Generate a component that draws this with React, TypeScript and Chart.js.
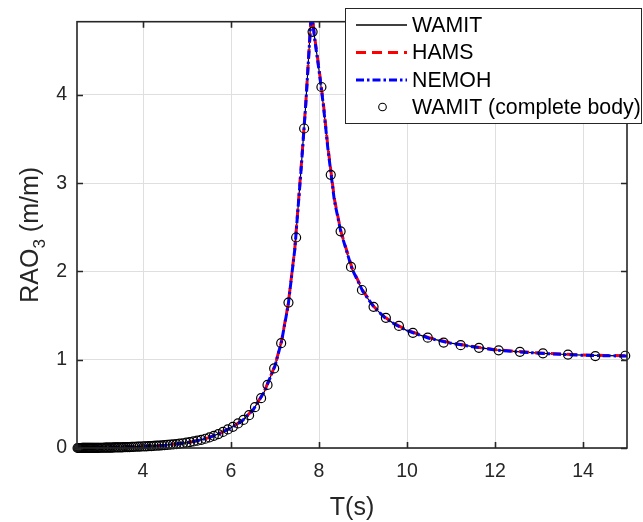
import React, { useEffect, useRef } from "react";
import { Chart, registerables } from "chart.js";
Chart.register(...registerables);

// ---- data ----
const circleT = [
  14.96, 14.28, 13.659, 13.09, 12.566, 12.083, 11.636, 11.22, 10.833, 10.472,
  10.134, 9.817, 9.52, 9.24, 8.976, 8.727, 8.491, 8.267, 8.055, 7.854,
  7.662, 7.48, 7.306, 7.14, 6.981, 6.83, 6.684, 6.545, 6.411, 6.283,
  6.16, 6.042, 5.928, 5.818, 5.712, 5.61, 5.512, 5.417, 5.325, 5.236,
  5.15, 5.067, 4.987, 4.909, 4.833, 4.76, 4.689, 4.62, 4.553, 4.488,
  4.425, 4.363, 4.304, 4.245, 4.189, 4.134, 4.08, 4.028, 3.977, 3.927,
  3.879, 3.831, 3.785, 3.74, 3.696, 3.653, 3.611, 3.57, 3.53, 3.491,
  3.452, 3.415, 3.378, 3.342, 3.307, 3.272, 3.239, 3.206, 3.173, 3.142,
  3.11, 3.08, 3.05, 3.021, 2.992, 2.964, 2.936, 2.909, 2.882, 2.856,
  2.83, 2.805, 2.78, 2.756, 2.732, 2.708, 2.685, 2.662, 2.64, 2.618,
  2.596, 2.575, 2.554, 2.534, 2.513,
];
const circleRAO = [
  1.045, 1.042, 1.058, 1.073, 1.09, 1.107, 1.135, 1.165, 1.195, 1.25,
  1.305, 1.383, 1.475, 1.6, 1.79, 2.052, 2.455, 3.095, 4.09, 4.715,
  3.62, 2.385, 1.648, 1.188, 0.902, 0.715, 0.565, 0.462, 0.372, 0.318,
  0.278, 0.24, 0.21, 0.182, 0.158, 0.138, 0.12, 0.105, 0.093, 0.083,
  0.074, 0.066, 0.06, 0.054, 0.049, 0.045, 0.041, 0.038, 0.035, 0.032,
  0.03, 0.028, 0.026, 0.024, 0.022, 0.021, 0.019, 0.018, 0.017, 0.016,
  0.015, 0.014, 0.013, 0.012, 0.011, 0.01, 0.01, 0.009, 0.008, 0.008,
  0.007, 0.007, 0.006, 0.006, 0.005, 0.005, 0.005, 0.004, 0.004, 0.004,
  0.003, 0.003, 0.003, 0.003, 0.002, 0.002, 0.002, 0.002, 0.002, 0.002,
  0.001, 0.001, 0.001, 0.001, 0.001, 0.001, 0.001, 0.001, 0.001, 0.001,
  0, 0, 0, 0, 0,
];
const lineT = [
  2.5, 2.75, 3.0, 3.25, 3.5, 3.75, 4.0, 4.25, 4.5, 4.75, 5.0, 5.25, 5.5, 5.75,
  6.0, 6.25, 6.5, 6.75, 7.0, 7.15, 7.3, 7.45, 7.6, 7.7, 7.83, 7.9, 8.0, 8.1,
  8.2, 8.35, 8.5, 8.75, 9.0, 9.25, 9.5, 9.75, 10.0, 10.5, 11.0, 11.5, 12.0,
  12.5, 13.0, 13.5, 14.0, 14.5, 15.0,
];
const wamitRAO = [
  0, 0.001, 0.003, 0.005, 0.008, 0.012, 0.018, 0.024, 0.032, 0.045, 0.06, 0.084, 0.118, 0.167,
  0.229, 0.307, 0.43, 0.63, 0.93, 1.21, 1.62, 2.25, 3.21, 3.9, 4.98, 4.65, 4.28, 3.88,
  3.4, 2.8, 2.44, 2.03, 1.77, 1.595, 1.475, 1.395, 1.33, 1.245, 1.188, 1.148, 1.112,
  1.092, 1.075, 1.062, 1.052, 1.046, 1.043,
];
const hamsRAO = [
  0, 0.001, 0.003, 0.005, 0.008, 0.012, 0.018, 0.024, 0.032, 0.045, 0.06, 0.084, 0.118, 0.167,
  0.23, 0.308, 0.432, 0.632, 0.935, 1.215, 1.63, 2.26, 3.22, 3.91, 4.97, 4.66, 4.3, 3.9,
  3.42, 2.82, 2.45, 2.04, 1.78, 1.6, 1.48, 1.4, 1.335, 1.25, 1.19, 1.15, 1.114,
  1.094, 1.077, 1.064, 1.054, 1.048, 1.045,
];
const nemohRAO = [
  0, 0.001, 0.003, 0.005, 0.008, 0.012, 0.018, 0.024, 0.032, 0.045, 0.06, 0.084, 0.118, 0.167,
  0.229, 0.306, 0.43, 0.63, 0.93, 1.21, 1.62, 2.25, 3.2, 3.9, 4.96, 4.64, 4.28, 3.88,
  3.4, 2.8, 2.44, 2.03, 1.77, 1.595, 1.474, 1.394, 1.33, 1.244, 1.187, 1.147, 1.111,
  1.091, 1.074, 1.061, 1.051, 1.045, 1.042,
];
const xTicks = [4, 6, 8, 10, 12, 14];
const yTicks = [0, 1, 2, 3, 4];
const legendLabels = ["WAMIT", "HAMS", "NEMOH", "WAMIT (complete body)"];
const xTitle = "T(s)";
const yTitleMain = "RAO";
const yTitleSub = "3";
const yTitleUnit = " (m/m)";

const FONT = "'Liberation Sans', Arial, sans-serif";
const AX = "#262626";

const toPts = (xs: number[], ys: number[]) => xs.map((x, i) => ({ x, y: ys[i] }));

const decorPlugin = {
  id: "decor",
  afterDatasetsDraw(chart: any) {
    const { ctx, chartArea: a, scales } = chart;
    ctx.save();
    ctx.strokeStyle = AX;
    ctx.lineWidth = 1.6;
    ctx.strokeRect(a.left, a.top, a.right - a.left, a.bottom - a.top);
    const tl = 6;
    ctx.beginPath();
    xTicks.forEach((v) => {
      const px = Math.round(scales.x.getPixelForValue(v)) + 0.5;
      ctx.moveTo(px, a.bottom);
      ctx.lineTo(px, a.bottom - tl);
      ctx.moveTo(px, a.top);
      ctx.lineTo(px, a.top + tl);
    });
    yTicks.forEach((v) => {
      const py = Math.round(scales.y.getPixelForValue(v)) + 0.5;
      ctx.moveTo(a.left, py);
      ctx.lineTo(a.left + tl, py);
      ctx.moveTo(a.right, py);
      ctx.lineTo(a.right - tl, py);
    });
    ctx.stroke();
    ctx.restore();
  },
  afterDraw(chart: any) {
    const { ctx, chartArea: a } = chart;
    ctx.save();
    // x title
    ctx.fillStyle = AX;
    ctx.font = `25px ${FONT}`;
    ctx.textAlign = "center";
    ctx.textBaseline = "alphabetic";
    ctx.fillText(xTitle, (a.left + a.right) / 2, 515);
    // y title (rotated, with subscript)
    ctx.save();
    ctx.translate(29, (a.top + a.bottom) / 2);
    ctx.rotate(-Math.PI / 2);
    ctx.textAlign = "left";
    ctx.font = `25px ${FONT}`;
    const wMain = ctx.measureText(yTitleMain).width;
    const wUnit = ctx.measureText(yTitleUnit).width;
    ctx.font = `17px ${FONT}`;
    const wSub = ctx.measureText(yTitleSub).width;
    const total = wMain + wSub + wUnit;
    let x0 = -total / 2;
    ctx.font = `25px ${FONT}`;
    ctx.fillText(yTitleMain, x0, 9);
    x0 += wMain;
    ctx.font = `17px ${FONT}`;
    ctx.fillText(yTitleSub, x0, 16);
    x0 += wSub;
    ctx.font = `25px ${FONT}`;
    ctx.fillText(yTitleUnit, x0, 9);
    ctx.restore();

    // legend
    const bx = 345.5, by = 8.5, bw = 296, bh = 115;
    ctx.fillStyle = "#ffffff";
    ctx.fillRect(bx, by, bw, bh);
    ctx.strokeStyle = AX;
    ctx.lineWidth = 1;
    ctx.strokeRect(bx, by, bw, bh);
    const rows = [25, 52.5, 80, 107];
    const lx0 = 356, lx1 = 407, tx = 412;
    const styles = [
      { color: "#000000", width: 1.3, dash: [] as number[] },
      { color: "#ff0000", width: 3, dash: [10, 6] },
      { color: "#0000ff", width: 3, dash: [8, 3, 2.5, 3] },
    ];
    styles.forEach((s, i) => {
      ctx.beginPath();
      ctx.setLineDash(s.dash);
      ctx.strokeStyle = s.color;
      ctx.lineWidth = s.width;
      ctx.moveTo(lx0, rows[i]);
      ctx.lineTo(lx1, rows[i]);
      ctx.stroke();
    });
    ctx.setLineDash([]);
    ctx.beginPath();
    ctx.strokeStyle = "#000000";
    ctx.lineWidth = 1.1;
    ctx.arc((lx0 + lx1) / 2 + 1, rows[3], 3.8, 0, Math.PI * 2);
    ctx.stroke();
    ctx.fillStyle = "#000000";
    ctx.font = `21.3px ${FONT}`;
    ctx.textAlign = "left";
    ctx.textBaseline = "middle";
    legendLabels.forEach((t, i) => ctx.fillText(t, tx, rows[i] + 1));
    ctx.restore();
  },
};

export default function App() {
  const ref = useRef<HTMLCanvasElement | null>(null);
  useEffect(() => {
    if (!ref.current) return;
    const chart = new Chart(ref.current, {
      type: "line",
      data: {
        datasets: [
          {
            label: legendLabels[3],
            data: toPts(circleT, circleRAO),
            showLine: false,
            pointRadius: 4.5,
            pointBorderWidth: 1.2,
            pointBorderColor: "#000000",
            pointBackgroundColor: "rgba(0,0,0,0)",
            clip: false as any,
          },
          {
            label: legendLabels[2],
            data: toPts(lineT, nemohRAO),
            borderColor: "#0000ff",
            borderWidth: 3,
            borderDash: [8, 3, 2.5, 3],
            pointRadius: 0,
            fill: false,
          },
          {
            label: legendLabels[1],
            data: toPts(lineT, hamsRAO),
            borderColor: "#ff0000",
            borderWidth: 3,
            borderDash: [10, 6],
            pointRadius: 0,
            fill: false,
          },
          {
            label: legendLabels[0],
            data: toPts(lineT, wamitRAO),
            borderColor: "#000000",
            borderWidth: 1.2,
            pointRadius: 0,
            fill: false,
          },
        ],
      },
      options: {
        animation: false,
        responsive: false,
        devicePixelRatio: 1,
        events: [],
        layout: { padding: { top: 18, right: 16, left: 0, bottom: 0 } },
        plugins: { legend: { display: false }, tooltip: { enabled: false } },
        scales: {
          x: {
            type: "linear",
            min: 2.5,
            max: 15,
            afterBuildTicks: (s: any) => {
              s.ticks = xTicks.map((v) => ({ value: v }));
            },
            afterFit: (s: any) => {
              s.height = 74;
            },
            grid: { color: "#dfdfdf", lineWidth: 1, drawTicks: false },
            border: { display: false },
            ticks: {
              padding: 12,
              color: AX,
              font: { family: FONT, size: 19.5 },
              maxRotation: 0,
              autoSkip: false,
            },
          },
          y: {
            type: "linear",
            min: 0,
            max: 4.83,
            afterBuildTicks: (s: any) => {
              s.ticks = yTicks.map((v) => ({ value: v }));
            },
            afterFit: (s: any) => {
              s.width = 77;
            },
            grid: { color: "#dfdfdf", lineWidth: 1, drawTicks: false },
            border: { display: false },
            ticks: {
              padding: 10,
              color: AX,
              font: { family: FONT, size: 19.5 },
              autoSkip: false,
            },
          },
        },
      },
      plugins: [decorPlugin],
    });
    return () => chart.destroy();
  }, []);
  return (
    <div style={{ position: "fixed", left: 0, top: 0, width: 643, height: 522, background: "#fff" }}>
      <canvas ref={ref} width={643} height={522} style={{ display: "block" }} />
    </div>
  );
}
